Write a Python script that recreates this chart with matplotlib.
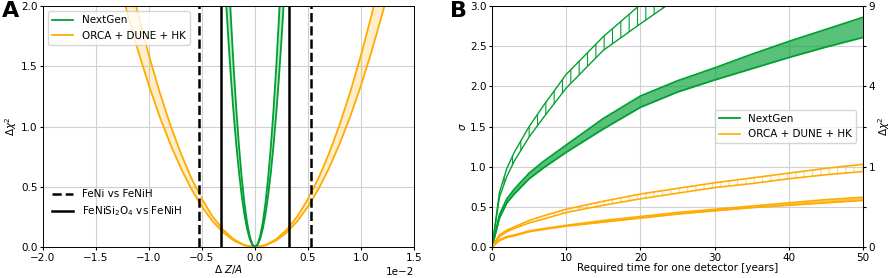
import numpy as np
import matplotlib.pyplot as plt

# Panel A: delta chi^2 vs delta Z/A (right half, mirrored)
x_orca = [0.0, 0.001, 0.002, 0.003, 0.004, 0.005, 0.006, 0.007, 0.008, 0.009, 0.010, 0.011, 0.012, 0.013]
orca_hi = [0, 0.016, 0.064, 0.143, 0.254, 0.398, 0.572, 0.779, 1.018, 1.288, 1.59, 1.924, 2.29, 2.69]
orca_lo = [0, 0.013, 0.054, 0.121, 0.214, 0.335, 0.482, 0.657, 0.858, 1.085, 1.34, 1.621, 1.93, 2.26]

x_ng = [0.0, 0.00025, 0.0005, 0.00075, 0.001, 0.00125, 0.0015, 0.00175, 0.002, 0.00225, 0.0025, 0.00275, 0.003]
ng_hi = [0, 0.023, 0.093, 0.208, 0.37, 0.578, 0.833, 1.133, 1.48, 1.873, 2.31, 2.80, 3.33]
ng_lo = [0, 0.017, 0.069, 0.154, 0.274, 0.428, 0.617, 0.839, 1.096, 1.387, 1.713, 2.072, 2.466]

feni = 0.0053
fenisi = 0.0032

# Panel B: sigma vs time
t = [0, 1, 2, 3, 5, 7, 10, 15, 20, 25, 30, 35, 40, 45, 50]
ng_solid_hi = [0, 0.40, 0.60, 0.72, 0.92, 1.07, 1.27, 1.60, 1.88, 2.07, 2.23, 2.40, 2.56, 2.71, 2.86]
ng_solid_lo = [0, 0.36, 0.55, 0.66, 0.85, 0.99, 1.18, 1.47, 1.74, 1.93, 2.08, 2.22, 2.36, 2.49, 2.61]
t_h = [0, 1, 2, 3, 5, 7, 10, 15, 20, 25]
ng_hatch_hi = [0, 0.68, 0.98, 1.18, 1.50, 1.77, 2.15, 2.62, 3.02, 3.38]
ng_hatch_lo = [0, 0.62, 0.88, 1.07, 1.37, 1.62, 1.98, 2.45, 2.78, 3.10]
or_hatch_hi = [0, 0.15, 0.21, 0.25, 0.33, 0.39, 0.47, 0.57, 0.66, 0.73, 0.80, 0.86, 0.92, 0.98, 1.03]
or_hatch_lo = [0, 0.13, 0.19, 0.23, 0.30, 0.35, 0.43, 0.52, 0.60, 0.67, 0.74, 0.79, 0.85, 0.90, 0.94]
or_solid_hi = [0, 0.09, 0.13, 0.15, 0.20, 0.23, 0.27, 0.33, 0.38, 0.43, 0.47, 0.51, 0.55, 0.59, 0.62]
or_solid_lo = [0, 0.08, 0.12, 0.14, 0.19, 0.22, 0.26, 0.31, 0.36, 0.41, 0.45, 0.49, 0.52, 0.55, 0.58]

green = '#00a032'
orange = '#ffab00'

def mirror(x, y):
    x = np.asarray(x); y = np.asarray(y)
    return np.concatenate([-x[::-1], x[1:]]), np.concatenate([y[::-1], y[1:]])

plt.rcParams['font.size'] = 7.5
plt.rcParams['xtick.major.size'] = 2.5
plt.rcParams['ytick.major.size'] = 2.5
plt.rcParams['xtick.major.pad'] = 1.5
plt.rcParams['ytick.major.pad'] = 1.5
plt.rcParams['axes.linewidth'] = 0.7
plt.rcParams['hatch.linewidth'] = 0.8

fig = plt.figure(figsize=(8.92, 2.78), dpi=100)
axA = fig.add_axes([0.0482, 0.1115, 0.4158, 0.8665])
axB = fig.add_axes([0.5516, 0.1115, 0.4159, 0.8665])

# --- A ---
xo, yoh = mirror(x_orca, orca_hi)
_, yol = mirror(x_orca, orca_lo)
xn, ynh = mirror(x_ng, ng_hi)
_, ynl = mirror(x_ng, ng_lo)

axA.fill_between(xo, yol, yoh, color=orange, alpha=0.2, lw=0)
axA.plot(xo, yoh, color=orange, lw=1.3)
axA.plot(xo, yol, color=orange, lw=1.3)
axA.fill_between(xn, ynl, ynh, color=green, alpha=0.25, lw=0)
axA.plot(xn, ynh, color=green, lw=1.3, label='NextGen')
axA.plot(xn, ynl, color=green, lw=1.3)
axA.plot([], [], color=orange, lw=1.3, label='ORCA + DUNE + HK')

l1, = axA.plot([-feni, -feni], [0, 2], color='black', lw=1.8, ls='--', gapcolor='white')
axA.plot([feni, feni], [0, 2], color='black', lw=1.8, ls='--', gapcolor='white')
l2, = axA.plot([-fenisi, -fenisi], [0, 2], color='black', lw=1.8)
axA.plot([fenisi, fenisi], [0, 2], color='black', lw=1.8)

leg1 = axA.legend(loc='upper left', fontsize=7.5)
axA.add_artist(leg1)
axA.legend([l1, l2], ['FeNi vs FeNiH', r'FeNiSi$_2$O$_4$ vs FeNiH'],
           loc='lower left', frameon=False, fontsize=7.5, bbox_to_anchor=(0, 0.08))

axA.set_xlim(-0.02, 0.015)
axA.set_ylim(0, 2)
axA.set_xticks(np.arange(-0.02, 0.0151, 0.005))
axA.set_yticks([0, 0.5, 1.0, 1.5, 2.0])
axA.ticklabel_format(axis='x', style='sci', scilimits=(-2, -2))
axA.grid(True, color='#d0d0d0', lw=0.8)
axA.set_axisbelow(True)
axA.set_xlabel(r'$\Delta$ $Z/A$', labelpad=0)
axA.set_ylabel(r'$\Delta\chi^2$', labelpad=1)

# --- B ---
axB.fill_between(t, ng_solid_lo, ng_solid_hi, color=green, alpha=0.65, lw=0)
axB.plot(t, ng_solid_hi, color=green, lw=1.3, label='NextGen')
axB.plot(t, ng_solid_lo, color=green, lw=1.3)
axB.fill_between(t_h, ng_hatch_lo, ng_hatch_hi, facecolor='none', edgecolor=green, hatch='||', lw=0)
axB.plot(t_h, ng_hatch_hi, color=green, lw=1.0)
axB.plot(t_h, ng_hatch_lo, color=green, lw=1.0)

axB.fill_between(t, or_hatch_lo, or_hatch_hi, facecolor='none', edgecolor=orange, hatch='||', lw=0, alpha=0.5)
axB.plot(t, or_hatch_hi, color=orange, lw=1.2, label='ORCA + DUNE + HK')
axB.plot(t, or_hatch_lo, color=orange, lw=1.2)
axB.fill_between(t, or_solid_lo, or_solid_hi, color=orange, alpha=0.7, lw=0)
axB.plot(t, or_solid_hi, color=orange, lw=1.2)
axB.plot(t, or_solid_lo, color=orange, lw=1.2)

axB.set_xlim(0, 50)
axB.set_ylim(0, 3)
axB.set_yticks([0, 0.5, 1.0, 1.5, 2.0, 2.5, 3.0])
axB.grid(True, color='#d0d0d0', lw=0.8)
axB.set_axisbelow(True)
axB.set_xlabel('Required time for one detector [years]', labelpad=0)
axB.set_ylabel(r'$\sigma$', labelpad=1)
axB.legend(loc='center right', fontsize=7.5, bbox_to_anchor=(0.995, 0.5))

axR = axB.twinx()
axR.set_ylim(0, 3)
axR.set_yticks([0, 0.5, 1, 1.5, 2, 2.5, 3])
axR.set_yticklabels(['0', '', '1', '', '4', '', '9'])
axR.set_ylabel(r'$\Delta\chi^2$', labelpad=1)

fig.text(0.002, 0.995, 'A', fontsize=16, fontweight='bold', va='top', ha='left')
fig.text(0.504, 0.995, 'B', fontsize=16, fontweight='bold', va='top', ha='left')

fig.savefig('out.png', dpi=100)
